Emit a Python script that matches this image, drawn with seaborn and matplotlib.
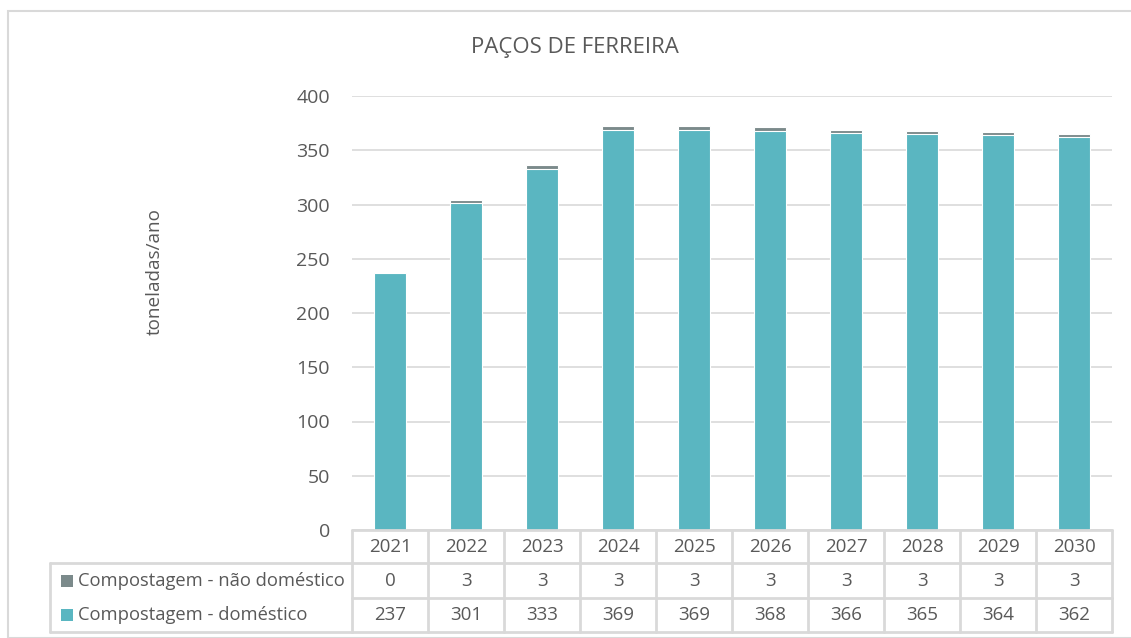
import matplotlib
matplotlib.use("Agg")
import matplotlib.pyplot as plt
import matplotlib.transforms as mtransforms
from matplotlib.lines import Line2D
from matplotlib.patches import Rectangle
import seaborn as sns
import pandas as pd

years = ["2021", "2022", "2023", "2024", "2025", "2026", "2027", "2028", "2029", "2030"]
domestico = [237, 301, 333, 369, 369, 368, 366, 365, 364, 362]
nao_domestico = [0, 3, 3, 3, 3, 3, 3, 3, 3, 3]
series_names = ["Compostagem - não doméstico", "Compostagem - doméstico"]
title = "PAÇOS DE FERREIRA"
ylabel = "toneladas/ano"

teal = "#5AB6C1"
grey = "#7B8A8B"
text_c = "#595959"
line_c = "#D9D9D9"

sns.set_theme(style="white")
plt.rcParams["font.family"] = ["Open Sans", "DejaVu Sans"]

W, H = 1131, 638
fig = plt.figure(figsize=(W / 100, H / 100), dpi=100)

# outer chart frame
fig.patches.append(Rectangle((8 / W, 0), 1.2, (H - 11) / H, transform=fig.transFigure,
                             fill=False, edgecolor=line_c, linewidth=1.5))

x0, x1, y_top, y_bot = 352, 1112, 96, 530
ax = fig.add_axes([x0 / W, (H - y_bot) / H, (x1 - x0) / W, (y_bot - y_top) / H])

df = pd.DataFrame({
    "ano": years,
    "total": [d + n for d, n in zip(domestico, nao_domestico)],
    "domestico": domestico,
})

sns.barplot(data=df, x="ano", y="total", color=grey, saturation=1, width=0.41,
            edgecolor="white", linewidth=0.8, ax=ax)
sns.barplot(data=df, x="ano", y="domestico", color=teal, saturation=1, width=0.41,
            edgecolor="white", linewidth=0.8, ax=ax)

ax.set_xlim(-0.5, len(years) - 0.5)
ax.set_ylim(0, 400)
ax.set_yticks(range(0, 401, 50))
ax.yaxis.grid(True, color=line_c, linewidth=1.2)
ax.set_axisbelow(True)
for s in ax.spines.values():
    s.set_visible(False)
ax.tick_params(axis="y", length=0, pad=16, labelsize=14, labelcolor=text_c)
ax.set_xticks([])
ax.set_xlabel("")
ax.set_ylabel("")

fig.text(155 / W, (H - 272) / H, ylabel, rotation=90, ha="center", va="center",
         fontsize=13.6, color=text_c)
fig.text(575 / W, (H - 48) / H, title, ha="center", va="center", fontsize=16, color=text_c)

# data table below the plot
tr = mtransforms.blended_transform_factory(ax.transData, fig.transFigure)
ftr = fig.transFigure
rows_y = [530, 563, 598, 632]
fy = lambda p: (H - p) / H
n = len(years)
fs = 13.5

def hline(xa, xb, y, trans):
    fig.add_artist(Line2D([xa, xb], [fy(y), fy(y)], transform=trans, color=line_c, linewidth=2))

def vline(x, ya, yb, trans):
    fig.add_artist(Line2D([x, x], [fy(ya), fy(yb)], transform=trans, color=line_c, linewidth=2))

for y in rows_y:
    hline(-0.5, n - 0.5, y, tr)
for i in range(n + 1):
    vline(i - 0.5, rows_y[0], rows_y[-1], tr)
hline(50 / W, x0 / W, rows_y[1], ftr)
hline(50 / W, x0 / W, rows_y[3], ftr)
vline(50 / W, rows_y[1], rows_y[3], ftr)

for i, yr in enumerate(years):
    fig.text(i, fy((rows_y[0] + rows_y[1]) / 2), yr, transform=tr, ha="center", va="center",
             fontsize=fs, color=text_c)
    fig.text(i, fy((rows_y[1] + rows_y[2]) / 2), str(nao_domestico[i]), transform=tr,
             ha="center", va="center", fontsize=fs, color=text_c)
    fig.text(i, fy((rows_y[2] + rows_y[3]) / 2), str(domestico[i]), transform=tr,
             ha="center", va="center", fontsize=fs, color=text_c)

for name, col, (ya, yb) in [(series_names[0], grey, (rows_y[1], rows_y[2])),
                            (series_names[1], teal, (rows_y[2], rows_y[3]))]:
    yc = (ya + yb) / 2
    fig.patches.append(Rectangle((61 / W, fy(yc + 6)), 12 / W, 12 / H, transform=ftr,
                                 facecolor=col, edgecolor="none"))
    fig.text(78 / W, fy(yc), name, ha="left", va="center", fontsize=13.2, color=text_c)

fig.savefig("out.png", dpi=100, facecolor="white")
